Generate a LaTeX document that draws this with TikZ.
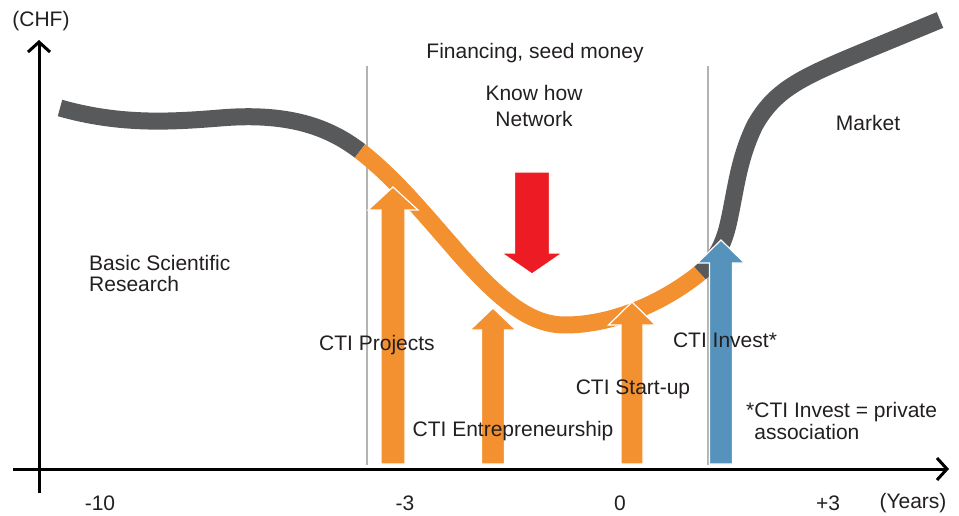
\documentclass[tikz,border=0pt]{standalone}
\usepackage{fontspec}
\setmainfont{Liberation Sans}
\usetikzlibrary{arrows.meta}

\definecolor{curvegray}{HTML}{58595B}
\definecolor{ctiorange}{HTML}{F39130}
\definecolor{ctiblue}{HTML}{5592BC}
\definecolor{ctired}{HTML}{ED1C24}
\definecolor{phasegray}{HTML}{B3B3B3}
\definecolor{inkblack}{HTML}{231F20}

% block arrow: colour, centre x, shaft half width, head half width, tip y, head base y, tail y
\newcommand{\blockarrow}[7]{%
  \fill[#1, draw=white, line width=1.2pt, line join=miter]
    (#2-#3,#7) -- (#2-#3,#6) -- (#2-#4,#6) -- (#2,#5) -- (#2+#4,#6)
    -- (#2+#3,#6) -- (#2+#3,#7) -- cycle;}

\tikzset{
  axisline/.style={draw=black, line width=3pt, -{Straight Barb[length=10pt,width=22pt]}},
  phaseline/.style={draw=phasegray, line width=2.5pt},
  band/.style={line width=17pt, line cap=butt},
  lbl/.style={text=inkblack, font=\fontsize{21}{26}\selectfont, inner sep=0pt},
}

\begin{document}
\begin{tikzpicture}[x=1pt, y=-1pt]
  \useasboundingbox (0,0) rectangle (959,516);

  % axes
  \coordinate (ybot) at (39,493);
  \coordinate (ytop) at (39,40);
  \coordinate (xleft) at (13,469);
  \coordinate (xright) at (949,469);
  \draw[axisline] (ybot) -- (ytop);
  \draw[axisline] (xleft) -- (xright);

  % phase boundaries
  \coordinate (p1top) at (367,66);
  \coordinate (p1bot) at (367,465);
  \coordinate (p2top) at (708,66);
  \coordinate (p2bot) at (708,465);
  \draw[phaseline] (p1top) -- (p1bot);
  \draw[phaseline] (p2top) -- (p2bot);

  % value curve: research, funded phase, market
  \draw[band, curvegray] (60,108) .. controls (120,125) and (170,122) .. (220,118)
    .. controls (290,112) and (330,128) .. (360,151);
  \draw[band, ctiorange] (360,151) .. controls (395,178) and (425,215) .. (460,255)
    .. controls (500,300) and (530,325) .. (565,325)
    .. controls (610,325) and (660,305) .. (700,273);
  \draw[band, curvegray] (700,273) .. controls (712,263) and (722,250) .. (728,225)
    .. controls (736,190) and (738,160) .. (755,125)
    .. controls (775,90) and (800,78) .. (860,53) -- (940,20);

  % support instruments
  \blockarrow{ctiorange}{393}{12}{25}{187}{210}{464}
  \blockarrow{ctiorange}{493}{11.5}{23}{308}{330}{464}
  \blockarrow{ctiorange}{632}{11}{23.5}{302}{325}{464}
  \blockarrow{ctiblue}{721}{11.5}{23.5}{240}{263}{464}
  \blockarrow{ctired}{532}{17.5}{30.5}{274}{253}{172}

  % labels
  \node[lbl] (chf) at (41,21) {(CHF)};
  \node[lbl] (financing) at (535,53) {Financing, seed money};
  \node[lbl, align=center] (know) at (534,106) {Know how\\Network};
  \node[lbl] (market) at (868,123) {Market};
  \node[lbl, align=left, anchor=west, font=\fontsize{21}{21}\selectfont] (basic) at (89,273)
    {Basic Scientific\\Research};
  \node[lbl] (projects) at (377,345) {CTI Projects};
  \node[lbl] (entre) at (513,431) {CTI Entrepreneurship};
  \node[lbl] (startup) at (633,389) {CTI Start-up};
  \node[lbl] (invest) at (725,340) {CTI Invest*};
  \node[lbl, align=left, anchor=west, font=\fontsize{21}{22}\selectfont] (note) at (746,421)
    {*CTI Invest = private\\\hphantom{*}association};

  \node[lbl] (tm10) at (100,503) {-10};
  \node[lbl] (tm3) at (405,503) {-3};
  \node[lbl] (t0) at (620,503) {0};
  \node[lbl] (tp3) at (828,503) {+3};
  \node[lbl] (years) at (913,503) {(Years)};
\end{tikzpicture}
\end{document}
